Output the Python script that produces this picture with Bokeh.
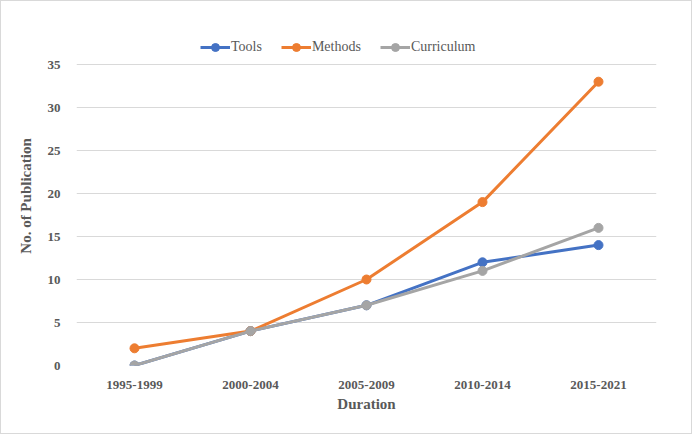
from bokeh.plotting import figure
from bokeh.models import Legend, LegendItem, FixedTicker, Range1d
from bokeh.embed import file_html
from bokeh.resources import INLINE

categories = ["1995-1999", "2000-2004", "2005-2009", "2010-2014", "2015-2021"]
tools = [0, 4, 7, 12, 14]
methods = [2, 4, 10, 19, 33]
curriculum = [0, 4, 7, 11, 16]
y_ticks = [0, 5, 10, 15, 20, 25, 30, 35]

FONT = "Liberation Serif"
GRAY_TXT = "#595959"

# frame spans 25..364 px; 0..35 spans 63..364 px, extra headroom holds the legend
p = figure(x_range=categories, width=692, height=434, output_backend="svg",
           toolbar_location=None, min_border_left=75, min_border_right=37,
           min_border_top=25, min_border_bottom=70)
p.y_range = Range1d(0, 35 * 339 / 301)

series = [("Tools", tools, "#4472C4"), ("Methods", methods, "#ED7D31"),
          ("Curriculum", curriculum, "#A5A5A5")]
items = []
for name, vals, col in series:
    l = p.line(categories, vals, line_color=col, line_width=3)
    c = p.scatter(categories, vals, size=9, fill_color=col, line_color=col)
    items.append(LegendItem(label=name, renderers=[l, c]))

legend = Legend(items=items, orientation="horizontal", location=(124, 308),
                label_text_font=FONT, label_text_font_size="14px",
                label_text_color=GRAY_TXT, border_line_color=None,
                background_fill_alpha=0, glyph_width=30, spacing=19,
                label_standoff=1, margin=0, padding=4)
p.add_layout(legend, "center")

p.yaxis.ticker = FixedTicker(ticks=y_ticks)
p.ygrid.ticker = FixedTicker(ticks=y_ticks)
p.xgrid.grid_line_color = None
p.ygrid.grid_line_color = "#D9D9D9"
p.outline_line_color = None

for ax in (p.xaxis, p.yaxis):
    ax.axis_line_color = None
    ax.major_tick_line_color = None
    ax.minor_tick_line_color = None
    ax.major_label_text_font = FONT
    ax.major_label_text_font_style = "bold"
    ax.major_label_text_font_size = "13px"
    ax.major_label_text_color = GRAY_TXT
    ax.axis_label_text_font = FONT
    ax.axis_label_text_font_style = "bold"
    ax.axis_label_text_font_size = "15px"
    ax.axis_label_text_color = GRAY_TXT

p.xaxis.axis_label = "Duration"
p.yaxis.axis_label = "No. of Publication"
p.xaxis.major_label_standoff = 9
p.yaxis.major_label_standoff = 10
p.xaxis.axis_label_standoff = 4
p.yaxis.axis_label_standoff = 11

p.styles = {"border": "1px solid #D9D9D9"}

open("out.html", "w").write(file_html(p, INLINE))
